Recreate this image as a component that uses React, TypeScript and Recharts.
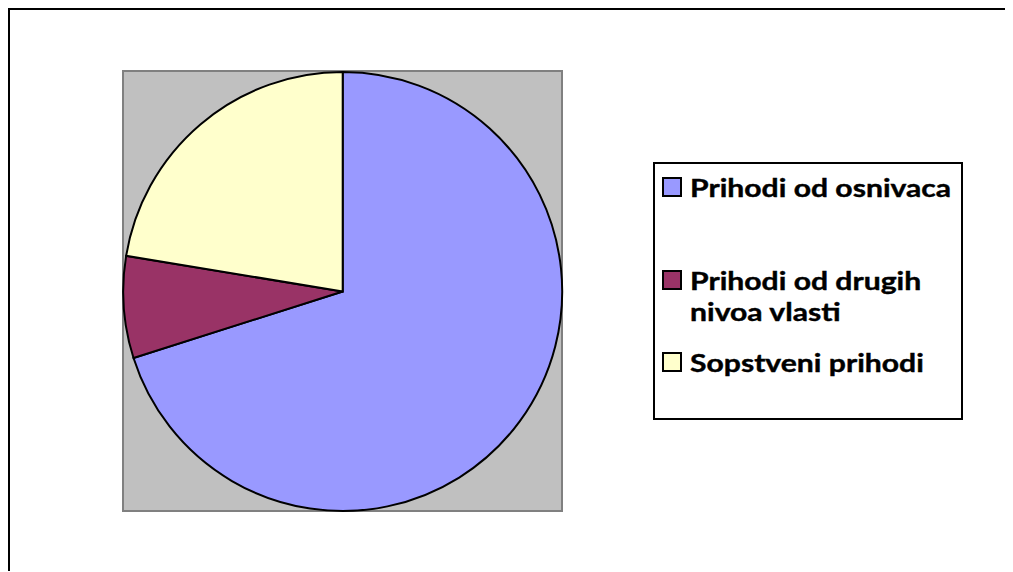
import React from 'react';
import { PieChart, Pie, Cell, Legend, Customized } from 'recharts';

const categories = ['Prihodi od osnivaca', 'Prihodi od drugih nivoa vlasti', 'Sopstveni prihodi'];
const values = [70.1, 7.5, 22.4];
const colors = ['#9999FF', '#993366', '#FFFFCC'];

const data = categories.map((name, i) => ({ name, value: values[i] }));

const itemMargins = [8, 62, 20];

const LegendContent = () => {
  return (
    <div style={{ position: 'relative', width: '100%', height: '100%' }}>
      {categories.map((name, i) => (
        <div
          key={name}
          style={{
            display: 'flex',
            alignItems: 'flex-start',
            marginTop: itemMargins[i],
            paddingLeft: 7,
          }}
        >
          <div
            style={{
              width: 20,
              height: 20,
              boxSizing: 'border-box',
              border: '2px solid #000',
              background: colors[i],
              marginTop: 5,
              flexShrink: 0,
            }}
          />
          <div
            style={{
              marginLeft: 8,
              width: 214,
              fontFamily: 'Lato, "Open Sans", sans-serif',
              fontWeight: 700,
              fontSize: 24,
              lineHeight: '31px',
              color: '#000',
              transform: 'scaleX(1.255)',
              transformOrigin: 'left top',
              WebkitTextStroke: '0.4px #000',
            }}
          >
            {name}
          </div>
        </div>
      ))}
    </div>
  );
};

const PlotBackground = () => (
  <rect x={113} y={61} width={439} height={440} fill="#C0C0C0" stroke="#808080" strokeWidth={2} />
);

export default function App() {
  return (
    <div
      style={{
        position: 'relative',
        width: 1004,
        height: 563,
        borderTop: '2px solid #000',
        borderLeft: '2px solid #000',
        boxSizing: 'border-box',
      }}
    >
      <PieChart width={1002} height={561} margin={{ top: 0, right: 0, bottom: 0, left: 0 }}>
        <Customized component={PlotBackground} />
        <Pie
          data={data}
          dataKey="value"
          nameKey="name"
          cx={332.7}
          cy={281.5}
          outerRadius={219.5}
          startAngle={90}
          endAngle={-270}
          stroke="#000"
          strokeWidth={2}
          isAnimationActive={false}
          label={false}
          labelLine={false}
        >
          {data.map((d, i) => (
            <Cell key={d.name} fill={colors[i]} />
          ))}
        </Pie>
        <Legend
          content={<LegendContent />}
          wrapperStyle={{
            position: 'absolute',
            left: 642.7,
            top: 151.7,
            bottom: 'auto',
            right: 'auto',
            width: 310,
            height: 258,
            border: '2px solid #000',
            boxSizing: 'border-box',
            background: '#fff',
            margin: 0,
          }}
        />
      </PieChart>
    </div>
  );
}
